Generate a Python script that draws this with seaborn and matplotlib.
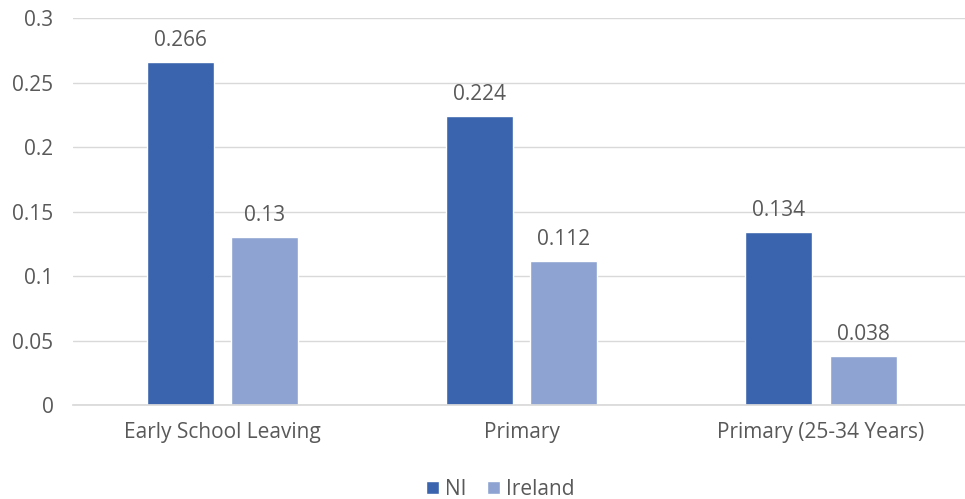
import pandas as pd
import matplotlib.pyplot as plt
import seaborn as sns

categories = ['Early School Leaving', 'Primary', 'Primary (25-34 Years)']
ni = [0.266, 0.224, 0.134]
ireland = [0.13, 0.112, 0.038]

df = pd.DataFrame({
    'category': categories * 2,
    'value': ni + ireland,
    'region': ['NI'] * 3 + ['Ireland'] * 3,
})

sns.set_theme(style='white')
plt.rcParams['font.family'] = ['Open Sans', 'DejaVu Sans']
grey = '#595959'

fig = plt.figure(figsize=(9.65, 4.99), dpi=100)
ax = fig.add_axes([0.0757, 0.188, 0.93, 0.776])
ax.set_axisbelow(True)
ax.yaxis.grid(True, color='#D9D9D9', linewidth=1)

sns.barplot(data=df, x='category', y='value', hue='region', ax=ax,
            palette={'NI': '#3A64AE', 'Ireland': '#8EA3D2'},
            width=0.564, gap=0.206, saturation=1)

for cont in ax.containers:
    ax.bar_label(cont, labels=[f'{v:g}' for v in cont.datavalues],
                 padding=8, fontsize=15, color=grey)

ax.set_ylim(0, 0.3)
ax.set_xlim(-0.5, 2.5)
ax.set_yticks([0, 0.05, 0.1, 0.15, 0.2, 0.25, 0.3])
ax.set_yticklabels(['0', '0.05', '0.1', '0.15', '0.2', '0.25', '0.3'])
ax.tick_params(axis='both', length=0, labelsize=15, colors=grey)
ax.tick_params(axis='y', pad=14)
ax.tick_params(axis='x', pad=12)
ax.set_xlabel('')
ax.set_ylabel('')
for s in ['top', 'right', 'left']:
    ax.spines[s].set_visible(False)
ax.spines['bottom'].set_color('#D9D9D9')

ax.legend(loc='center', bbox_to_anchor=(0.476, -0.218), ncol=2, frameon=False,
          fontsize=15, labelcolor=grey, handlelength=0.6, handleheight=0.6,
          handletextpad=0.3, columnspacing=1.0)

fig.savefig('out.png', dpi=100)
